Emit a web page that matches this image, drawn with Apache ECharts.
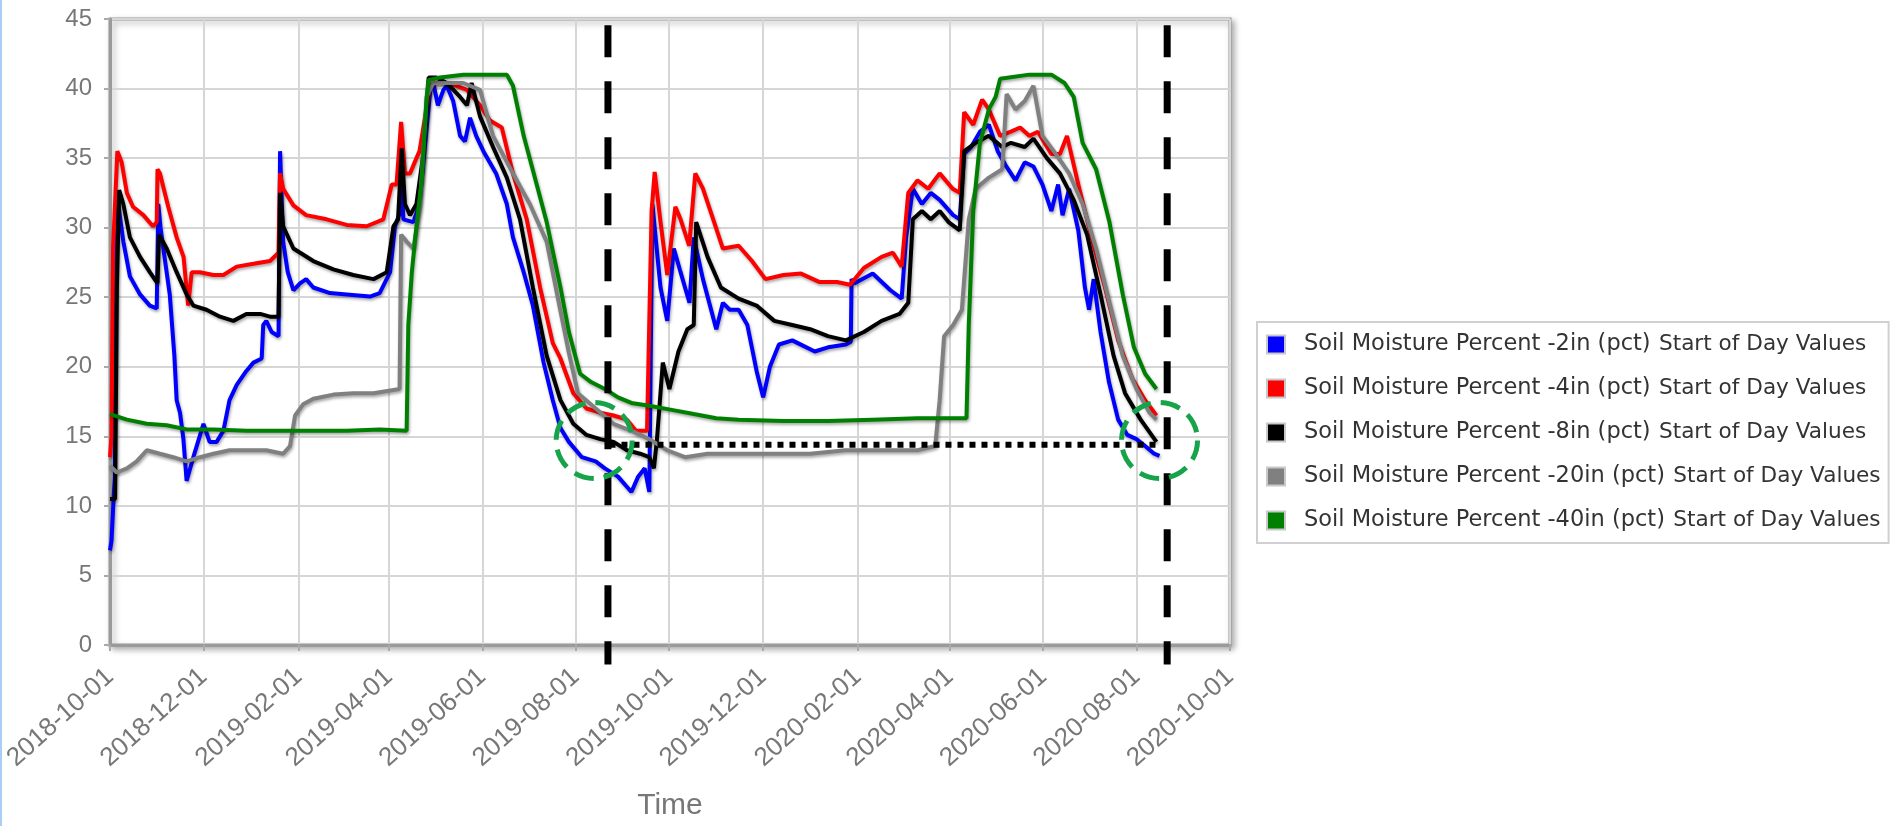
<!DOCTYPE html>
<html>
<head>
<meta charset="utf-8">
<title>Soil Moisture Percent</title>
<script src="https://cdn.jsdelivr.net/npm/echarts@6/dist/echarts.min.js"></script>
<style>
    html, body { margin: 0; padding: 0; background: #fff; }
    #chart { width: 1895px; height: 826px; }
</style>
</head>
<body>
<div id="chart"></div>
<script>
// points are [day offset from 2018-10-01, value in pct]
const sm2in = [[0,6.8],[1,7.5],[3,12],[4,29],[5,32],[8.7,29],[13,26.5],[19.6,25.2],[26,24.4],[30.5,24.2],[31.5,31.7],[33,30],[34.8,28.5],[39,25.2],[42,20.8],[43.5,17.6],[45.7,16.7],[47.9,14.8],[50,11.8],[54.4,13.5],[61,15.9],[65,14.6],[69.6,14.6],[74,15.4],[78,17.6],[82.7,18.7],[89,19.7],[93.6,20.3],[99,20.6],[100,23],[102,23.3],[105.5,22.5],[110,22.2],[111,35.5],[113,29],[116,26.8],[119.7,25.5],[124,26],[128,26.3],[132.7,25.7],[143.6,25.3],[154.5,25.2],[169.7,25.05],[176,25.3],[182.8,26.8],[186,30.1],[189,31],[190,33.9],[191.5,30.6],[198,30.4],[202,31.7],[209,39.9],[211,40.4],[214,38.8],[217.6,39.9],[219.8,40.2],[224,39.1],[228.5,36.6],[231.7,36.2],[235,37.9],[239,36.6],[243.7,35.5],[252,33.9],[259,31.7],[263,29.3],[270,26.8],[276,24.4],[283,20.3],[289,17.6],[294,15.6],[299.5,14.6],[308,13.5],[317,13.2],[323,12.7],[331.6,12.1],[340.3,11],[344.7,12.1],[349,12.7],[352,11],[354,31.7],[359.3,25.7],[363.7,23.3],[368,28.5],[372.4,26.8],[378.2,24.6],[381,29.3],[387,26.3],[395.7,22.7],[400,24.6],[404.5,24.1],[410.3,24.1],[416,23],[422,19.7],[426.3,17.8],[430.7,20],[436.6,21.6],[445.3,21.9],[452.6,21.5],[460,21.1],[468.6,21.4],[480.3,21.6],[483.5,21.8],[484,26.3],[486,26],[497.8,26.7],[509.4,25.5],[516.7,24.9],[519.6,29.3],[524,32.8],[529.9,31.7],[535.7,32.5],[541.5,32],[550.3,30.9],[554.6,30.6],[557.5,35.3],[562,35.8],[567.8,36.9],[573.6,37.4],[579.4,35.5],[585,34.4],[591,33.4],[597,34.7],[602.7,34.4],[608.6,33.1],[614.4,31.2],[618.8,33.1],[621.7,30.9],[626,32.8],[632,29.8],[636.3,25.7],[639,24.1],[642,26.3],[646.5,22.5],[652,18.9],[658,16.2],[664,15.1],[670,14.8],[675.6,14.3],[681.5,13.75],[685,13.6]];
const sm4in = [[0,13.5],[1,15],[2,28.5],[4.8,35.5],[7.6,34.7],[11,32.5],[15,31.5],[21.8,30.9],[28,30.1],[30.5,30.4],[31,34.2],[32.6,33.9],[38,31.5],[43.5,29.3],[48,27.9],[51,24.4],[53.3,26.8],[58.7,26.8],[67.5,26.6],[74,26.6],[82.7,27.2],[93.6,27.4],[104.4,27.6],[110,28.2],[111,33.9],[113,32.8],[119.7,31.6],[128,30.9],[141.4,30.6],[154.5,30.2],[167.5,30.1],[178.4,30.6],[183.9,33.1],[187,33.1],[190,37.6],[192.5,33.9],[195.8,33.9],[200,35],[202,35.5],[209,40.2],[213,40.4],[219.8,40.4],[226,40.2],[233,39.9],[241.5,38.8],[248,37.7],[255.7,37.2],[263,33.9],[272,30.6],[280.7,25.7],[289,21.7],[294,20.6],[302.4,18.1],[311,17],[320,16.7],[328.7,16.5],[337.4,16.2],[343.3,15.4],[350.5,15.4],[353.5,31.2],[355.5,34],[359.3,30.4],[363.7,26.6],[369,31.5],[372.4,30.6],[378,28.7],[382,33.9],[387,32.8],[394.3,30.4],[400,28.5],[410.3,28.7],[419,27.6],[427.8,26.3],[439.5,26.6],[451,26.7],[462.8,26.1],[474.5,26.1],[483,25.9],[492,27.1],[503.6,27.9],[511,28.2],[516.7,27.2],[521,32.5],[527,33.4],[534,32.8],[541.5,33.9],[550,32.8],[554.6,32.5],[557.5,38.3],[563.4,37.4],[569.2,39.2],[573.6,38.5],[581,36.6],[588,36.9],[594,37.2],[600,36.6],[605.6,36.9],[614.4,35.3],[620,35.3],[624.6,36.6],[632,33.1],[640.6,29.3],[649.4,25.7],[658,21.9],[667,19.2],[675.6,17.6],[683,16.5]];
const sm8in = [[0,10.5],[3.3,10.5],[4.5,25.7],[6,32.7],[8.7,31.7],[13,29.3],[19.6,27.9],[26,26.8],[31,26],[32,29.5],[37,28.5],[43.5,26.8],[50,25.2],[54.4,24.4],[63,24.1],[71.8,23.6],[80.5,23.3],[89,23.8],[98,23.8],[104.4,23.6],[110,23.6],[111,32.5],[113,30.1],[119.7,28.5],[132.7,27.6],[145.8,27],[158.8,26.6],[172,26.3],[180.6,26.8],[185,30.1],[188,30.6],[190.4,35.7],[192.5,31.7],[195.8,30.9],[200,31.7],[204.5,35.3],[208,40.8],[213,40.8],[219.8,40.4],[228.5,39.4],[233,38.8],[236,40.4],[241.5,38],[250,35.8],[259,33.6],[267.6,30.6],[276,25.7],[285,20.8],[294,17.6],[302.4,15.9],[311,15.1],[320,14.8],[328.7,14.6],[337.4,14],[346,13.75],[352,13.5],[355,12.7],[357,14.8],[360.8,20.3],[365.1,18.4],[371,21.1],[376.8,22.7],[381,23],[382.6,30.4],[390,27.9],[398.7,25.7],[410.3,24.9],[422,24.4],[433.6,23.3],[445.3,23],[457,22.7],[468.6,22.2],[480.3,21.9],[492,22.5],[503.6,23.3],[515.3,23.8],[521,24.6],[524,30.6],[529.9,31.2],[535.7,30.6],[541.5,31.2],[547.3,30.4],[554.6,29.8],[557.5,35.5],[565,36.1],[573.6,36.6],[582.3,35.8],[588,36.1],[597,35.8],[602.7,36.4],[611.5,35],[620,33.9],[629,32],[637.7,29.5],[646.5,25.2],[655,20.8],[662.5,18.1],[672.7,16.2],[683,14.6]];
const sm20in = [[0,12.9],[4.4,12.4],[11,12.7],[17.4,13.2],[24,14],[32.6,13.75],[41.3,13.5],[50,13.2],[58.7,13.5],[67.5,13.75],[78,14],[89,14],[102,14],[113,13.75],[117.5,14.3],[120.8,16.5],[126,17.3],[132.7,17.7],[145.8,18],[158.8,18.1],[172,18.1],[189,18.4],[190,29.5],[193.6,29],[198,28.5],[202,31.2],[206.7,39.4],[211,40.4],[219.8,40.4],[230.6,40.4],[241.5,39.9],[250,36.6],[263,33.9],[274,31.7],[285,29],[294,24],[299.5,21],[305.4,18.1],[317,17],[328.7,15.9],[340.3,15.4],[352,14.8],[363.7,14],[375.3,13.5],[390,13.75],[410.3,13.75],[433.6,13.75],[457,13.75],[480,14],[503.6,14],[527,14],[538.6,14.3],[541.5,17.6],[544.4,22.2],[550.3,23],[556,24.1],[560.5,30.6],[565,32.8],[573.6,33.6],[582.3,34.2],[585.2,39.6],[591,38.5],[597,39.1],[602.7,40.2],[608.6,36.6],[617.3,35.3],[626,33.9],[634.8,31.7],[643.6,28.5],[652.3,24.6],[661,20.8],[670,18.4],[678.5,16.7],[683,16.2]];
const sm40in = [[0,16.6],[11,16.2],[24,15.9],[37,15.8],[50,15.5],[67.5,15.5],[89,15.4],[111,15.4],[132.7,15.4],[154.5,15.4],[176,15.5],[193.6,15.4],[194.7,23],[197,26.8],[200,30.1],[203.4,33.4],[206.7,39.4],[207.8,40.6],[215.4,40.8],[230.6,41],[248,41],[259,41],[263,40.2],[270,36.6],[278.5,33.1],[285,30.4],[294,25.7],[299.5,22.5],[306.8,19.5],[314,18.9],[323,18.4],[331.6,17.8],[340.3,17.4],[352,17.2],[366.6,16.9],[381,16.6],[395.7,16.3],[410.3,16.2],[439.5,16.1],[468.6,16.1],[497.8,16.2],[527,16.3],[559,16.3],[560.5,23],[563.4,31.2],[567.8,36.1],[573.6,38.5],[578,39.4],[581,40.7],[600,41],[614.4,41],[623,40.4],[629,39.4],[634.8,36.1],[643.6,34.2],[652.3,30.4],[661,25.2],[668.3,21.4],[675.6,19.5],[683,18.4]];

const seriesNames = [
    'Soil Moisture Percent -2in (pct) Start of Day Values',
    'Soil Moisture Percent -4in (pct) Start of Day Values',
    'Soil Moisture Percent -8in (pct) Start of Day Values',
    'Soil Moisture Percent -20in (pct) Start of Day Values',
    'Soil Moisture Percent -40in (pct) Start of Day Values'
];
const seriesColors = ['#0000ff', '#ff0000', '#000000', '#808080', '#008000'];
const tickDates = ['2018-10-01', '2018-12-01', '2019-02-01', '2019-04-01', '2019-06-01', '2019-08-01', '2019-10-01',
    '2019-12-01', '2020-02-01', '2020-04-01', '2020-06-01', '2020-08-01', '2020-10-01'];
const yTicks = [0, 5, 10, 15, 20, 25, 30, 35, 40, 45];

// annotations drawn on top (day offsets / values)
const guideDays = [325, 690];          // black dashed verticals
const guideSpan = [44.55, -1.4];       // from near top of plot to below the axis
const levelLine = [326, 14.4, 684];    // dotted horizontal: from day, value, to day
const circleMarks = [[316, 14.7], [685, 14.7]];

function parseDate(s) {
    const p = s.split('-');
    return new Date(+p[0], +p[1] - 1, +p[2]).getTime();
}
function dayToTime(d) {
    return new Date(2018, 9, 1).getTime() + d * 86400000;
}
function toSeries(points) {
    return points.map(function (p) { return [dayToTime(p[0]), p[1]]; });
}

const tickValues = tickDates.map(parseDate);
const allSeries = [sm2in, sm4in, sm8in, sm20in, sm40in];

const chart = echarts.init(document.getElementById('chart'));

const lineSeries = allSeries.map(function (pts, i) {
    return {
        name: seriesNames[i],
        type: 'line',
        data: toSeries(pts),
        showSymbol: false,
        symbol: 'none',
        color: seriesColors[i],
        lineStyle: {
            width: 4,
            color: seriesColors[i],
            shadowColor: 'rgba(0,0,0,0.35)',
            shadowBlur: 3,
            shadowOffsetX: 1,
            shadowOffsetY: 2
        }
    };
});

const option = {
    animation: false,
    backgroundColor: '#fff',
    graphic: [{
        type: 'rect', left: 0, top: 0, shape: { width: 2, height: 826 },
        style: { fill: '#a9cdf5' }
    }],
    grid: {
        left: 110, right: 665, top: 19, bottom: 174,
        show: true,
        backgroundColor: '#fff',
        borderColor: '#9a9a9a',
        borderWidth: 3,
        shadowColor: 'rgba(0,0,0,0.3)',
        shadowBlur: 6,
        shadowOffsetX: 3,
        shadowOffsetY: 3
    },
    legend: {
        orient: 'vertical',
        left: 1257, top: 322,
        data: seriesNames,
        icon: 'rect',
        itemWidth: 18, itemHeight: 18, itemGap: 21,
        padding: [11, 8, 11, 9],
        backgroundColor: '#fff',
        borderColor: '#d0d0d0',
        borderWidth: 2,
        itemStyle: { borderColor: '#c8c8c8', borderWidth: 2 },
        formatter: function (name) {
            return '{a|' + name.replace(' Start of Day Values', '') + '} {b|Start of Day Values}';
        },
        textStyle: {
            rich: {
                a: { fontFamily: 'DejaVu Sans', fontSize: 22.5, lineHeight: 22, color: '#333', padding: [0, 0, 0, 14] },
                b: { fontFamily: 'DejaVu Sans', fontSize: 21.6, lineHeight: 22, color: '#333', padding: [0, 0, 0, 5] }
            }
        }
    },
    xAxis: {
        type: 'value',
        min: tickValues[0],
        max: tickValues[tickValues.length - 1],
        name: 'Time',
        nameLocation: 'middle',
        nameGap: 146,
        nameTextStyle: { fontFamily: 'Liberation Sans', fontSize: 30, color: '#777' },
        axisLine: { show: true, lineStyle: { color: '#9a9a9a', width: 3 } },
        axisTick: { show: true, customValues: tickValues, length: 6, lineStyle: { color: '#aaa', width: 2 } },
        axisLabel: {
            customValues: tickValues,
            rotate: 42,
            margin: 28,
            fontFamily: 'Liberation Sans',
            fontSize: 26,
            color: '#777',
            formatter: function (v) { return echarts.time.format(v, '{yyyy}-{MM}-{dd}', false); }
        },
        splitLine: { show: true, lineStyle: { color: '#d6d6d6', width: 2 } }
    },
    yAxis: {
        type: 'value',
        min: yTicks[0],
        max: yTicks[yTicks.length - 1],
        interval: 5,
        axisLine: { show: true, lineStyle: { color: '#9a9a9a', width: 3 } },
        axisTick: { show: true, length: 6, lineStyle: { color: '#aaa', width: 2 } },
        axisLabel: { margin: 18, fontFamily: 'Liberation Sans', fontSize: 24, color: '#777' },
        splitLine: { show: true, lineStyle: { color: '#d6d6d6', width: 2 } }
    },
    series: lineSeries.concat([
        {
            type: 'custom',
            name: 'level',
            silent: true,
            clip: false,
            z: 10,
            data: [[dayToTime(levelLine[0]), levelLine[1], dayToTime(levelLine[2])]],
            renderItem: function (params, api) {
                const a = api.coord([api.value(0), api.value(1)]);
                const b = api.coord([api.value(2), api.value(1)]);
                return {
                    type: 'line',
                    shape: { x1: a[0], y1: a[1], x2: b[0], y2: b[1] },
                    style: { stroke: '#000', lineWidth: 6, lineDash: [6, 6] }
                };
            }
        },
        {
            type: 'custom',
            name: 'guides',
            silent: true,
            clip: false,
            z: 11,
            data: guideDays.map(function (d) { return [dayToTime(d), guideSpan[0], guideSpan[1]]; }),
            renderItem: function (params, api) {
                const a = api.coord([api.value(0), api.value(1)]);
                const b = api.coord([api.value(0), api.value(2)]);
                return {
                    type: 'line',
                    shape: { x1: a[0], y1: a[1], x2: b[0], y2: b[1] },
                    style: { stroke: '#000', lineWidth: 7, lineDash: [32, 24] }
                };
            }
        },
        {
            type: 'custom',
            name: 'circles',
            silent: true,
            clip: false,
            z: 12,
            data: circleMarks.map(function (c) { return [dayToTime(c[0]), c[1]]; }),
            renderItem: function (params, api) {
                const c = api.coord([api.value(0), api.value(1)]);
                return {
                    type: 'circle',
                    shape: { cx: c[0], cy: c[1], r: 38 },
                    style: { fill: 'none', stroke: '#16a34a', lineWidth: 5, lineDash: [20, 10] }
                };
            }
        }
    ])
};

chart.setOption(option);
</script>
</body>
</html>
